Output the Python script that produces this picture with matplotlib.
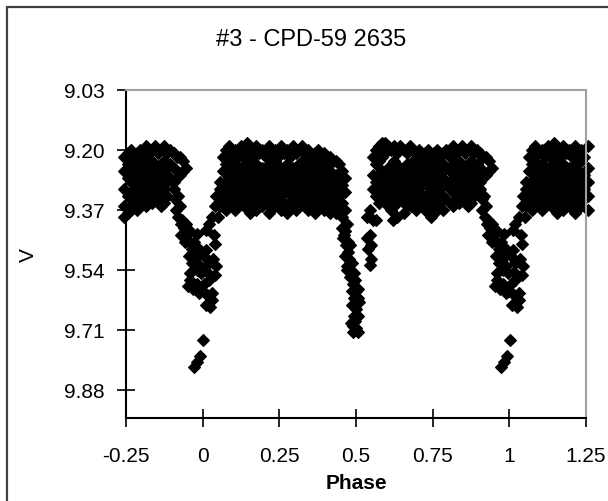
import matplotlib
matplotlib.use('Agg')
import matplotlib.pyplot as plt
from matplotlib.patches import Rectangle
import numpy as np

plt.rcParams['font.family'] = ['Liberation Sans', 'DejaVu Sans']

title = "#3 - CPD-59 2635"
x_label = "Phase"
y_label = "V"
x_ticks = [-0.25, 0, 0.25, 0.5, 0.75, 1, 1.25]
x_tick_labels = ['-0.25', '0', '0.25', '0.5', '0.75', '1', '1.25']
y_ticks = [9.03, 9.20, 9.37, 9.54, 9.71, 9.88]
y_tick_labels = ['9.03', '9.20', '9.37', '9.54', '9.71', '9.88']

# out-of-eclipse, after primary (phase columns and the V values in each)
out1_phase = [0.055, 0.065, 0.075, 0.085, 0.095, 0.105, 0.115, 0.125, 0.135, 0.145,
              0.155, 0.165, 0.175, 0.185, 0.195, 0.205, 0.215, 0.225, 0.235, 0.245,
              0.255, 0.265, 0.275, 0.285, 0.295, 0.305, 0.315, 0.325, 0.335, 0.345,
              0.355, 0.365, 0.375, 0.385, 0.395, 0.405, 0.415, 0.425, 0.435, 0.445,
              0.455, 0.465]
out1_v = [(9.33, 9.36, 9.29), (9.22, 9.26, 9.31, 9.35), (9.20, 9.24, 9.29, 9.33, 9.37),
          (9.19, 9.23, 9.28, 9.32, 9.36), (9.21, 9.26, 9.30, 9.34), (9.20, 9.24, 9.28, 9.33, 9.37),
          (9.22, 9.27, 9.31, 9.35), (9.19, 9.25, 9.29, 9.34), (9.21, 9.26, 9.30, 9.36),
          (9.18, 9.23, 9.28, 9.32, 9.35), (9.20, 9.25, 9.30, 9.34, 9.38), (9.22, 9.27, 9.31, 9.35),
          (9.19, 9.24, 9.29, 9.33, 9.37), (9.21, 9.26, 9.30, 9.34), (9.20, 9.25, 9.28, 9.32, 9.36),
          (9.22, 9.27, 9.31, 9.35), (9.19, 9.24, 9.29, 9.33, 9.38), (9.21, 9.26, 9.30, 9.35),
          (9.20, 9.23, 9.28, 9.32, 9.36), (9.22, 9.27, 9.31, 9.34), (9.19, 9.25, 9.29, 9.33, 9.37),
          (9.21, 9.26, 9.30, 9.35), (9.20, 9.24, 9.28, 9.32, 9.38), (9.22, 9.27, 9.31, 9.35),
          (9.19, 9.25, 9.29, 9.34), (9.21, 9.26, 9.30, 9.33, 9.37), (9.20, 9.24, 9.28, 9.32, 9.36),
          (9.19, 9.23, 9.27, 9.31, 9.35), (9.21, 9.26, 9.30, 9.34), (9.20, 9.24, 9.29, 9.33, 9.37),
          (9.22, 9.27, 9.31, 9.35), (9.21, 9.25, 9.29, 9.34, 9.38), (9.20, 9.23, 9.28, 9.32, 9.36),
          (9.22, 9.26, 9.30, 9.35), (9.21, 9.25, 9.29, 9.33, 9.37), (9.23, 9.27, 9.31, 9.36),
          (9.22, 9.26, 9.30, 9.34, 9.38), (9.23, 9.28, 9.32, 9.36), (9.23, 9.27, 9.31, 9.35, 9.38),
          (9.24, 9.29, 9.33, 9.37), (9.26, 9.30, 9.35, 9.39), (9.28, 9.32, 9.37)]

# secondary eclipse
sec_phase = [0.455, 0.462, 0.470, 0.468, 0.475, 0.465, 0.480, 0.472, 0.485, 0.490,
             0.498, 0.500, 0.492, 0.505, 0.500, 0.495, 0.490, 0.500, 0.497,
             0.458, 0.465, 0.475, 0.482, 0.478, 0.488, 0.470, 0.482, 0.495, 0.488,
             0.505, 0.510, 0.487, 0.508, 0.485, 0.505, 0.490,
             0.535, 0.545, 0.550, 0.540, 0.545, 0.550, 0.535, 0.545, 0.555, 0.565,
             0.620, 0.635, 0.655, 0.680]
sec_v = [9.42, 9.44, 9.41, 9.47, 9.49, 9.50, 9.52, 9.54, 9.55, 9.58,
         9.57, 9.60, 9.62, 9.62, 9.65, 9.67, 9.70, 9.705, 9.685,
         9.45, 9.43, 9.46, 9.47, 9.51, 9.52, 9.53, 9.56, 9.55, 9.60,
         9.595, 9.63, 9.64, 9.67, 9.69, 9.715, 9.715,
         9.45, 9.44, 9.47, 9.48, 9.525, 9.51, 9.39, 9.37, 9.40, 9.40,
         9.40, 9.39, 9.38, 9.36]

# out-of-eclipse, after secondary
out2_phase = [0.555, 0.565, 0.575, 0.585, 0.595, 0.605, 0.615, 0.625, 0.635, 0.645,
              0.655, 0.665, 0.675, 0.685, 0.695, 0.705, 0.715, 0.725, 0.735, 0.745,
              0.755, 0.765, 0.775, 0.785, 0.795, 0.805, 0.815, 0.825, 0.835, 0.845,
              0.855, 0.865, 0.875, 0.885, 0.895, 0.905, 0.915, 0.925, 0.935, 0.945]
out2_v = [(9.22, 9.27, 9.31), (9.20, 9.24, 9.29, 9.33), (9.19, 9.23, 9.28, 9.32, 9.35),
          (9.18, 9.22, 9.26, 9.30, 9.34), (9.18, 9.21, 9.27, 9.31, 9.35), (9.19, 9.25, 9.29, 9.33),
          (9.20, 9.26, 9.30, 9.34, 9.37), (9.19, 9.23, 9.28, 9.32), (9.21, 9.27, 9.31, 9.35),
          (9.19, 9.25, 9.29, 9.33), (9.20, 9.26, 9.30, 9.34), (9.21, 9.24, 9.28, 9.32, 9.36),
          (9.19, 9.26, 9.30, 9.34), (9.20, 9.23, 9.27, 9.31, 9.35), (9.21, 9.25, 9.29, 9.33, 9.37),
          (9.20, 9.24, 9.28, 9.32, 9.36), (9.22, 9.26, 9.30, 9.34), (9.21, 9.24, 9.28, 9.33, 9.37),
          (9.20, 9.25, 9.29, 9.35), (9.22, 9.26, 9.31, 9.36, 9.39), (9.21, 9.24, 9.28, 9.33, 9.38),
          (9.20, 9.25, 9.29, 9.34, 9.37), (9.22, 9.27, 9.31, 9.35), (9.21, 9.24, 9.28, 9.33, 9.37),
          (9.20, 9.25, 9.29, 9.34), (9.22, 9.26, 9.31, 9.35), (9.19, 9.24, 9.28, 9.32, 9.36),
          (9.21, 9.25, 9.29, 9.34), (9.20, 9.23, 9.27, 9.31, 9.35), (9.19, 9.25, 9.30, 9.34),
          (9.21, 9.26, 9.29, 9.33), (9.20, 9.24, 9.28, 9.32, 9.36), (9.19, 9.23, 9.27, 9.31, 9.35),
          (9.21, 9.25, 9.29, 9.33), (9.20, 9.24, 9.28), (9.21, 9.25, 9.29), (9.22, 9.26),
          (9.22, 9.27), (9.23, 9.26), (9.25,)]

# primary eclipse
pri_phase = [-0.095, -0.090, -0.088, -0.082, -0.080, -0.075, -0.072, -0.068, -0.062, -0.055,
             -0.050, -0.045, -0.040, -0.035, -0.028, -0.020,
             -0.070, -0.058, -0.045, -0.035, -0.040, -0.048, 0.005, 0.020, 0.045, 0.030, -0.012,
             -0.018, 0.011, 0.037, 0.040, 0.011, -0.018,
             -0.025, -0.010, 0.005, 0.020, 0.035, -0.005, 0.015, 0.040, -0.020,
             -0.040, -0.030, -0.020, 0.000, 0.015, 0.030, 0.010, 0.025,
             0.001, -0.028, -0.018, -0.008,
             0.020, 0.030, 0.040, 0.050, 0.045, 0.055, 0.050]
pri_v = [9.31, 9.34, 9.37, 9.33, 9.39, 9.36, 9.41, 9.40, 9.42, 9.41,
         9.44, 9.46, 9.43, 9.48, 9.46, 9.49,
         9.44, 9.46, 9.50, 9.52, 9.55, 9.585, 9.58, 9.57, 9.53, 9.625, 9.605,
         9.438, 9.427, 9.44, 9.466, 9.483, 9.475,
         9.51, 9.53, 9.50, 9.52, 9.51, 9.55, 9.545, 9.555, 9.54,
         9.57, 9.595, 9.58, 9.60, 9.61, 9.605, 9.64, 9.645,
         9.74, 9.815, 9.80, 9.785,
         9.41, 9.39, 9.36, 9.39, 9.33, 9.31, 9.35]

base_p = []
base_v = []
for ph, mags in zip(out1_phase, out1_v):
    for m in mags:
        base_p.append(ph)
        base_v.append(m)
for ph, mags in zip(out2_phase, out2_v):
    for m in mags:
        base_p.append(ph)
        base_v.append(m)
base_p += sec_phase + pri_phase
base_v += sec_v + pri_v
base_p = np.array(base_p)
base_v = np.array(base_v)

fig = plt.figure(figsize=(6.08, 5.02), dpi=100)
fig.patch.set_facecolor('white')

ax = fig.add_axes([126 / 608, 1 - 419 / 502, 460 / 608, 328 / 502])
for shift in (-1, 0, 1):
    p = base_p + shift
    keep = (p >= -0.256) & (p <= 1.256)
    ax.plot(p[keep], base_v[keep], linestyle='none', marker='D', ms=6.4,
            mfc='black', mec='black', mew=0.8, clip_on=False)

ax.set_xlim(-0.25, 1.25)
ax.set_ylim(9.96, 9.03)
ax.set_xticks(x_ticks)
ax.set_xticklabels(x_tick_labels)
ax.set_yticks(y_ticks)
ax.set_yticklabels(y_tick_labels)
ax.tick_params(direction='inout', length=13, width=1.2, labelsize=15, colors='black')
ax.tick_params(axis='y', pad=9)
ax.tick_params(axis='x', pad=14)
for s in ('left', 'bottom'):
    ax.spines[s].set_color('black')
    ax.spines[s].set_linewidth(1.5)
for s in ('top', 'right'):
    ax.spines[s].set_color('#a0a0a0')
    ax.spines[s].set_linewidth(1.5)

fig.text(311 / 608, 1 - 40 / 502, title, ha='center', va='center', fontsize=17)
fig.text(28 / 608, 1 - 255 / 502, y_label, rotation=90, ha='center', va='center', fontsize=15)
fig.text(356 / 608, 1 - 484 / 502, x_label, ha='center', va='center', fontsize=15,
         fontweight='bold')

fig.add_artist(Rectangle((7 / 608, -0.2), 2.0, 1.2 - 8 / 502, transform=fig.transFigure,
                         fill=False, ec='#404040', lw=1.6))

fig.savefig('out.png', dpi=100)
